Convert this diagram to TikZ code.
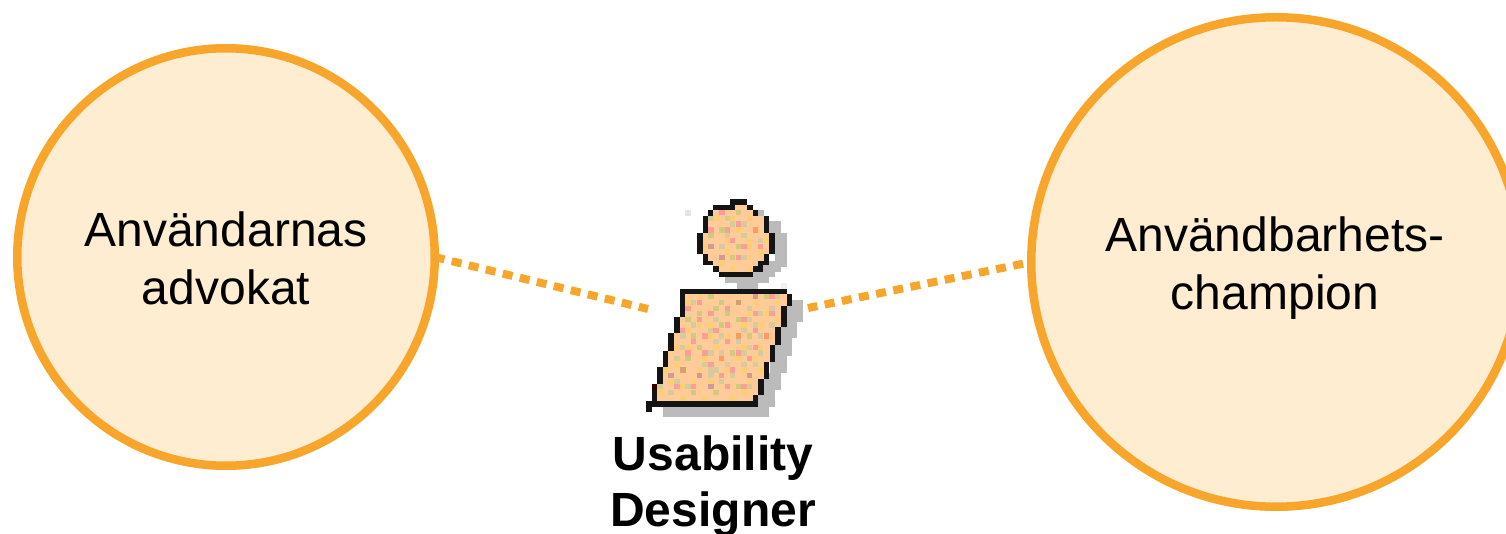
\documentclass[tikz,border=0pt]{standalone}
\usepackage{fontspec}
\setmainfont{Liberation Sans}
\definecolor{ring}{HTML}{F8A52B}
\definecolor{disc}{HTML}{FEEDD0}
\definecolor{peach}{HTML}{FFCC99}
\definecolor{dropgray}{HTML}{BBBBBB}
\definecolor{ink}{HTML}{141414}
\definecolor{cP}{HTML}{FA9E98}
\definecolor{cO}{HTML}{CFCB7C}
\definecolor{cY}{HTML}{FFCE70}
\definecolor{cD}{HTML}{CF9C95}
\definecolor{cR}{HTML}{FF9A62}
\definecolor{cT}{HTML}{D1A26C}
\definecolor{cS}{HTML}{D6CB9C}
\tikzset{
  role/.style={circle,draw=ring,fill=disc,line width=8.5pt,outer sep=0pt,inner sep=0pt},
  roletext/.style={align=center,text=black,inner sep=0pt,outer sep=0pt,font=\fontsize{48}{58}\selectfont},
  link/.style={draw=ring,line width=8pt,dash pattern=on 10pt off 7.5pt},
  caption/.style={font=\fontsize{48}{56}\selectfont\bfseries,align=center,inner sep=0pt,outer sep=0pt}
}
\begin{document}
\begin{tikzpicture}[x=1pt,y=-1pt]
\useasboundingbox (0,0) rectangle (1506,534);
\clip (0,0) rectangle (1506,534);
\node[role,minimum size=417.5pt] (a) at (226,257) {};
\node[role,minimum size=489.5pt] (b) at (1276,262) {};
\node[roletext] (at) at (226,258) {Användarnas\\advokat};
\node[roletext] (bt) at (1275,268) {Användbarhets-\\champion};
\coordinate (la) at (648,309);
\coordinate (lb) at (808,308);
\draw[link] (a.east) -- (la);
\draw[link,dash phase=9.1pt] (b.west) -- (lb);
\begin{scope}[shift={(630,190)},x=0.3333pt,y=-0.3333pt]
 % drop shadow
 \foreach \a/\b/\c/\d in {384/60/402/78,418/94/452/128,434/128/470/230,400/212/452/245,368/245/435/262,285/262/418/279,320/279/385/296,
   470/330/518/395,452/395/502/445,435/445/485/497,420/497/470/548,402/548/452/600,385/600/435/650,100/650/418/682}
   \fill[dropgray] (\a,\b) rectangle (\c,\d);
 % outline
 \foreach \a/\b/\c/\d in {300/28/350/44,250/44/368/60,234/60/384/78,218/78/418/128,202/128/434/192,218/192/418/224,250/224/400/245,268/245/368/262,
   150/296/470/312,150/312/486/348,150/348/470/380,132/380/470/412,132/412/452/430,115/430/452/465,115/465/435/482,100/482/435/516,100/516/418/530,82/530/418/566,82/566/402/582,66/582/402/616,66/616/384/632,48/632/384/650,48/650/66/665}
   \fill[ink] (\a,\b) rectangle (\c,\d);
 \fill[black!10] (165,60) rectangle (182,78);
 \fill[black!6] (452,280) rectangle (470,296);
 \fill[black!80!red] (66,582) rectangle (82,600);
 % fill
 \foreach \a/\b/\c/\d in {316/44/350/60,250/60/368/78,234/78/402/128,218/128/418/192,234/192/402/212,250/212/384/228,268/228/368/245,
   166/312/470/348,166/348/454/380,150/380/454/412,150/412/436/430,132/430/436/465,132/465/420/482,115/482/420/516,115/516/402/530,100/530/402/566,100/566/385/582,82/582/385/616,82/616/368/632}
   \fill[peach] (\a,\b) rectangle (\c,\d);
 % speckles
 \foreach \x/\y/\c in {268/60/cP,318/60/cO,234/78/cS,250/78/cY,284/78/cS,300/78/cY,350/78/cY,300/94/cS,318/94/cP,334/94/cS,
  234/112/cP,268/112/cO,284/112/cP,318/112/cY,368/112/cR,234/128/cO,284/128/cS,334/128/cS,284/144/cY,300/144/cP,350/144/cY,384/144/cS,402/144/cY,
  218/162/cY,234/162/cD,268/162/cS,318/162/cO,334/162/cP,350/162/cY,384/162/cP,284/178/cY,384/178/cY,268/195/cD,300/195/cO,318/195/cP,334/195/cS,350/195/cY,
  268/212/cY,300/228/cY,350/228/cY,
  200/312/cY,234/312/cO,368/312/cD,402/312/cO,418/312/cP,435/312/cS,
  166/330/cY,182/330/cS,200/330/cP,266/330/cO,318/330/cT,368/330/cY,435/330/cY,
  166/347/cP,250/347/cO,284/347/cP,350/347/cS,418/347/cS,
  200/363/cO,234/363/cP,284/363/cO,350/363/cY,368/363/cP,384/363/cS,402/363/cY,418/363/cP,
  166/380/cO,200/380/cP,250/380/cS,318/380/cO,334/380/cP,350/380/cS,435/380/cY,
  182/397/cS,200/397/cY,234/397/cY,266/397/cO,284/397/cP,334/397/cY,368/397/cS,384/397/cY,418/397/cS,
  150/413/cP,166/413/cY,234/413/cS,250/413/cP,334/413/cS,368/413/cP,
  150/430/cS,182/430/cO,216/430/cP,234/430/cY,266/430/cS,284/430/cY,318/430/cR,350/430/cO,384/430/cS,402/430/cR,
  182/447/cP,250/447/cS,284/447/cP,318/447/cS,
  132/464/cY,150/464/cS,166/464/cY,200/464/cO,250/464/cY,334/464/cY,350/464/cS,368/464/cP,384/464/cY,
  166/481/cP,216/481/cP,234/481/cS,266/481/cS,300/481/cO,318/481/cP,334/481/cS,384/481/cS,
  132/498/cS,166/498/cO,216/498/cY,266/498/cR,318/498/cY,350/498/cP,368/498/cY,
  132/515/cY,216/515/cS,234/515/cP,284/515/cS,334/515/cS,368/515/cS,
  100/532/cY,150/532/cT,200/532/cY,234/532/cS,250/532/cS,284/532/cY,300/532/cP,334/532/cY,384/532/cY,
  115/549/cD,200/549/cD,234/549/cS,266/549/cP,300/549/cS,350/549/cD,
  115/566/cY,132/566/cS,182/566/cY,234/566/cY,266/566/cS,350/566/cY,
  82/582/cS,132/582/cP,150/582/cY,166/582/cS,182/582/cP,234/582/cD,284/582/cP,318/582/cO,334/582/cP,350/582/cS,
  82/600/cY,115/600/cS,182/600/cO,250/600/cO,334/600/cY,
  150/617/cY,216/617/cY,300/617/cY}
   \fill[\c] (\x,\y) rectangle ++(16.5,16.5);
\end{scope}
\node[caption] (u) at (713,486) {Usability\\Designer};
\end{tikzpicture}
\end{document}
